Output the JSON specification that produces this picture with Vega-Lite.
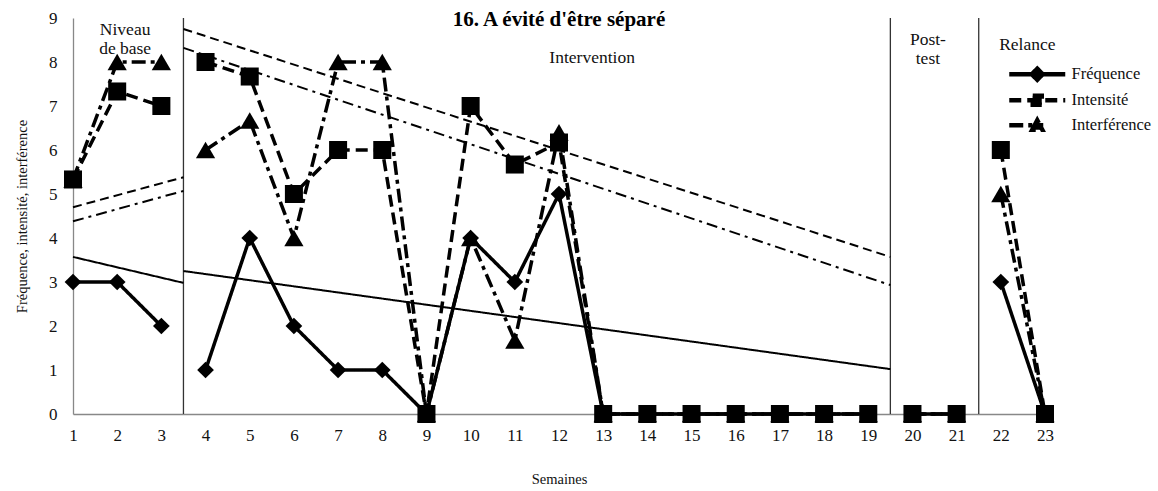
{
  "$schema": "https://vega.github.io/schema/vega-lite/v6.json",
  "width": 972,
  "height": 396,
  "autosize": {"type": "none"},
  "padding": {"left": 73, "top": 18, "right": 113, "bottom": 77},
  "background": "white",
  "config": {
    "view": {"stroke": null},
    "font": "Liberation Serif",
    "text": {"lineBreak": "\n"}
  },
  "title": {
    "text": "16. A évité d'être séparé",
    "font": "Liberation Serif",
    "fontSize": 21,
    "fontWeight": "bold",
    "color": "black",
    "anchor": "middle",
    "offset": -21
  },
  "datasets": {
    "obs": [
      {"week": 1, "series": "Fréquence", "value": 3, "phase": "base"},
      {"week": 2, "series": "Fréquence", "value": 3, "phase": "base"},
      {"week": 3, "series": "Fréquence", "value": 2, "phase": "base"},
      {"week": 4, "series": "Fréquence", "value": 1, "phase": "int"},
      {"week": 5, "series": "Fréquence", "value": 4, "phase": "int"},
      {"week": 6, "series": "Fréquence", "value": 2, "phase": "int"},
      {"week": 7, "series": "Fréquence", "value": 1, "phase": "int"},
      {"week": 8, "series": "Fréquence", "value": 1, "phase": "int"},
      {"week": 9, "series": "Fréquence", "value": 0, "phase": "int"},
      {"week": 10, "series": "Fréquence", "value": 4, "phase": "int"},
      {"week": 11, "series": "Fréquence", "value": 3, "phase": "int"},
      {"week": 12, "series": "Fréquence", "value": 5, "phase": "int"},
      {"week": 13, "series": "Fréquence", "value": 0, "phase": "int"},
      {"week": 14, "series": "Fréquence", "value": 0, "phase": "int"},
      {"week": 15, "series": "Fréquence", "value": 0, "phase": "int"},
      {"week": 16, "series": "Fréquence", "value": 0, "phase": "int"},
      {"week": 17, "series": "Fréquence", "value": 0, "phase": "int"},
      {"week": 18, "series": "Fréquence", "value": 0, "phase": "int"},
      {"week": 19, "series": "Fréquence", "value": 0, "phase": "int"},
      {"week": 20, "series": "Fréquence", "value": 0, "phase": "post"},
      {"week": 21, "series": "Fréquence", "value": 0, "phase": "post"},
      {"week": 22, "series": "Fréquence", "value": 3, "phase": "rel"},
      {"week": 23, "series": "Fréquence", "value": 0, "phase": "rel"},
      {"week": 1, "series": "Interférence", "value": 5.33, "phase": "base"},
      {"week": 2, "series": "Interférence", "value": 8, "phase": "base"},
      {"week": 3, "series": "Interférence", "value": 8, "phase": "base"},
      {"week": 4, "series": "Interférence", "value": 6, "phase": "int"},
      {"week": 5, "series": "Interférence", "value": 6.67, "phase": "int"},
      {"week": 6, "series": "Interférence", "value": 4, "phase": "int"},
      {"week": 7, "series": "Interférence", "value": 8, "phase": "int"},
      {"week": 8, "series": "Interférence", "value": 8, "phase": "int"},
      {"week": 9, "series": "Interférence", "value": 0, "phase": "int"},
      {"week": 10, "series": "Interférence", "value": 4, "phase": "int"},
      {"week": 11, "series": "Interférence", "value": 1.67, "phase": "int"},
      {"week": 12, "series": "Interférence", "value": 6.4, "phase": "int"},
      {"week": 13, "series": "Interférence", "value": 0, "phase": "int"},
      {"week": 14, "series": "Interférence", "value": 0, "phase": "int"},
      {"week": 15, "series": "Interférence", "value": 0, "phase": "int"},
      {"week": 16, "series": "Interférence", "value": 0, "phase": "int"},
      {"week": 17, "series": "Interférence", "value": 0, "phase": "int"},
      {"week": 18, "series": "Interférence", "value": 0, "phase": "int"},
      {"week": 19, "series": "Interférence", "value": 0, "phase": "int"},
      {"week": 20, "series": "Interférence", "value": 0, "phase": "post"},
      {"week": 21, "series": "Interférence", "value": 0, "phase": "post"},
      {"week": 22, "series": "Interférence", "value": 5, "phase": "rel"},
      {"week": 23, "series": "Interférence", "value": 0, "phase": "rel"},
      {"week": 1, "series": "Intensité", "value": 5.33, "phase": "base"},
      {"week": 2, "series": "Intensité", "value": 7.33, "phase": "base"},
      {"week": 3, "series": "Intensité", "value": 7, "phase": "base"},
      {"week": 4, "series": "Intensité", "value": 8, "phase": "int"},
      {"week": 5, "series": "Intensité", "value": 7.67, "phase": "int"},
      {"week": 6, "series": "Intensité", "value": 5, "phase": "int"},
      {"week": 7, "series": "Intensité", "value": 6, "phase": "int"},
      {"week": 8, "series": "Intensité", "value": 6, "phase": "int"},
      {"week": 9, "series": "Intensité", "value": 0, "phase": "int"},
      {"week": 10, "series": "Intensité", "value": 7, "phase": "int"},
      {"week": 11, "series": "Intensité", "value": 5.67, "phase": "int"},
      {"week": 12, "series": "Intensité", "value": 6.17, "phase": "int"},
      {"week": 13, "series": "Intensité", "value": 0, "phase": "int"},
      {"week": 14, "series": "Intensité", "value": 0, "phase": "int"},
      {"week": 15, "series": "Intensité", "value": 0, "phase": "int"},
      {"week": 16, "series": "Intensité", "value": 0, "phase": "int"},
      {"week": 17, "series": "Intensité", "value": 0, "phase": "int"},
      {"week": 18, "series": "Intensité", "value": 0, "phase": "int"},
      {"week": 19, "series": "Intensité", "value": 0, "phase": "int"},
      {"week": 20, "series": "Intensité", "value": 0, "phase": "post"},
      {"week": 21, "series": "Intensité", "value": 0, "phase": "post"},
      {"week": 22, "series": "Intensité", "value": 6, "phase": "rel"},
      {"week": 23, "series": "Intensité", "value": 0, "phase": "rel"}
    ],
    "trend": [
      {"series": "Fréquence", "phase": "base", "week": 1, "value": 3.57},
      {"series": "Fréquence", "phase": "base", "week": 3.5, "value": 2.98},
      {"series": "Intensité", "phase": "base", "week": 1, "value": 4.7},
      {"series": "Intensité", "phase": "base", "week": 3.5, "value": 5.38},
      {"series": "Interférence", "phase": "base", "week": 1, "value": 4.38},
      {"series": "Interférence", "phase": "base", "week": 3.5, "value": 5.07},
      {"series": "Fréquence", "phase": "int", "week": 3.5, "value": 3.25},
      {"series": "Fréquence", "phase": "int", "week": 19.5, "value": 1.02},
      {"series": "Intensité", "phase": "int", "week": 3.5, "value": 8.75},
      {"series": "Intensité", "phase": "int", "week": 19.5, "value": 3.57},
      {"series": "Interférence", "phase": "int", "week": 3.5, "value": 8.32},
      {"series": "Interférence", "phase": "int", "week": 19.5, "value": 2.93}
    ],
    "phases": [
      {"week": 3.5},
      {"week": 19.5},
      {"week": 21.5}
    ],
    "labels": [
      {"label": "Niveau\nde base", "week": 2.18, "value": 8.93},
      {"label": "Intervention", "week": 12.75, "value": 8.3},
      {"label": "Post-\ntest", "week": 20.35, "value": 8.7},
      {"label": "Relance", "week": 22.6, "value": 8.58}
    ]
  },
  "resolve": {"scale": {"strokeDash": "independent", "size": "independent", "shape": "independent"}},
  "layer": [
    {
      "data": {"name": "phases"},
      "mark": {"type": "rule", "color": "#333", "strokeWidth": 1.3},
      "encoding": {
        "x": {"field": "week", "type": "quantitative", "scale": {"domain": [1, 23], "nice": false, "zero": false},
          "axis": {"values": [1,2,3,4,5,6,7,8,9,10,11,12,13,14,15,16,17,18,19,20,21,22,23], "title": "Semaines", "grid": false, "ticks": false,
            "domainColor": "#888", "domainWidth": 1.3, "labelFont": "Liberation Serif", "labelFontSize": 17, "labelColor": "#111",
            "labelPadding": 13, "titleFont": "Liberation Serif", "titleFontSize": 14.5, "titleFontWeight": "normal", "titleColor": "#111", "titlePadding": 29, "labelFlush": false}},
        "y": {"datum": 0, "type": "quantitative", "scale": {"domain": [0, 9], "nice": false},
          "axis": {"values": [0,1,2,3,4,5,6,7,8,9], "title": "Fréquence, intensité, interférence", "grid": false, "ticks": false,
            "domainColor": "#888", "domainWidth": 1.3, "labelFont": "Liberation Serif", "labelFontSize": 17, "labelColor": "#111",
            "labelPadding": 16, "titleFont": "Liberation Serif", "titleFontSize": 14.5, "titleFontWeight": "normal", "titleColor": "#111", "titlePadding": 19}},
        "y2": {"datum": 9}
      }
    },
    {
      "data": {"name": "trend"},
      "mark": {"type": "line", "color": "black", "strokeWidth": 2},
      "encoding": {
        "x": {"field": "week", "type": "quantitative"},
        "y": {"field": "value", "type": "quantitative"},
        "detail": {"field": "phase"},
        "strokeDash": {"field": "series", "type": "nominal", "legend": null,
          "scale": {"domain": ["Fréquence", "Intensité", "Interférence"], "range": [[1, 0], [9, 5], [11, 5, 3, 5]]}}
      }
    },
    {
      "data": {"name": "obs"},
      "mark": {"type": "line", "color": "black", "strokeWidth": 3.5},
      "encoding": {
        "x": {"field": "week", "type": "quantitative"},
        "y": {"field": "value", "type": "quantitative"},
        "detail": {"field": "phase"},
        "strokeDash": {"field": "series", "type": "nominal",
          "scale": {"domain": ["Fréquence", "Intensité", "Interférence"], "range": [[1, 0], [12, 6], [14, 5, 4, 5]]},
          "legend": {
            "title": null, "orient": "none", "legendX": 956, "legendY": 48, "padding": 0,
            "symbolSize": 100, "symbolStrokeWidth": 4.5, "symbolStrokeColor": "black", "symbolFillColor": "black",
            "labelFont": "Liberation Serif", "labelFontSize": 16.5, "labelColor": "#111", "labelOffset": 26, "rowPadding": -3,
            "encode": {"symbols": {"update": {
              "shape": {"signal": "datum.value === 'Fréquence' ? 'M-5.6,0H5.6M0,-1.1L1.1,0L0,1.1L-1.1,0Z' : datum.value === 'Intensité' ? 'M-5.6,0H5.6M-0.9,-0.9H0.9V0.9H-0.9Z' : 'M-5.6,0H1.2M-1,0.9L0,-1L1,0.9Z'"},
              "fill": {"value": "black"},
              "stroke": {"value": "black"}
            }}}
          }}
      }
    },
    {
      "data": {"name": "obs"},
      "mark": {"type": "point", "filled": true, "color": "black", "opacity": 1},
      "encoding": {
        "x": {"field": "week", "type": "quantitative"},
        "y": {"field": "value", "type": "quantitative"},
        "shape": {"field": "series", "type": "nominal", "legend": null,
          "scale": {"domain": ["Fréquence", "Intensité", "Interférence"], "range": ["diamond", "square", "triangle-up"]}},
        "size": {"field": "series", "type": "nominal", "legend": null,
          "scale": {"domain": ["Fréquence", "Intensité", "Interférence"], "range": [280, 370, 380]}}
      }
    },
    {
      "data": {"name": "labels"},
      "mark": {"type": "text", "font": "Liberation Serif", "fontSize": 17.5, "color": "#111", "baseline": "top", "align": "center", "lineHeight": 19},
      "encoding": {
        "x": {"field": "week", "type": "quantitative"},
        "y": {"field": "value", "type": "quantitative"},
        "text": {"field": "label"}
      }
    }
  ]
}
